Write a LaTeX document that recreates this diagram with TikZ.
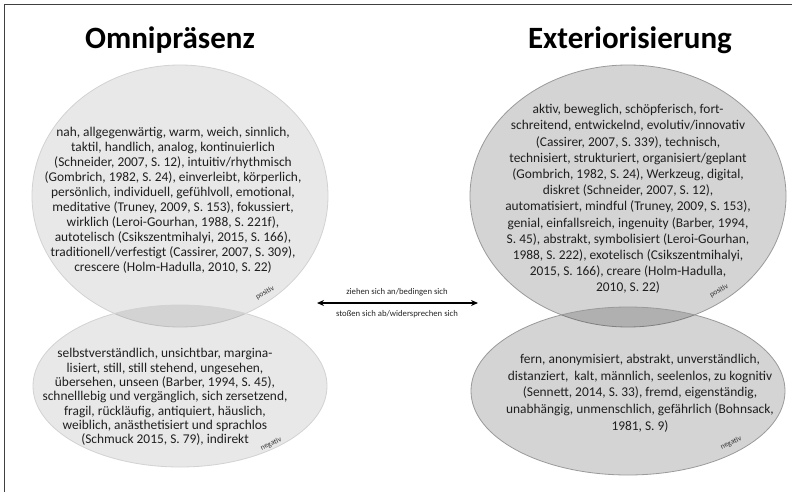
\documentclass[tikz,border=0pt]{standalone}
\usepackage{fontspec}
\setmainfont{Carlito}
\usetikzlibrary{arrows.meta}
\definecolor{frame}{HTML}{404040}
\definecolor{lightedge}{HTML}{D2D2D2}
\definecolor{darkedge}{HTML}{9A9A9A}
\tikzset{
  title/.style={font=\bfseries\fontsize{31}{36}\selectfont, inner sep=0pt},
  body/.style={align=center, inner sep=0pt, text=black!88},
  tag/.style={font=\fontsize{7.5}{8}\selectfont, inner sep=0pt, text=black!80},
  relation/.style={font=\fontsize{8.7}{10}\selectfont, inner sep=0pt, text=black!85},
  lightell/.style={draw=lightedge, fill=black, fill opacity=0.09, line width=0.8pt},
  darkell/.style={draw=darkedge, fill=black, fill opacity=0.17, line width=0.8pt}
}
\begin{document}
\begin{tikzpicture}[x=1pt,y=-1pt]
\useasboundingbox (0,0) rectangle (792,492);
\fill[white] (0,0) rectangle (792,492);
\draw[frame, line width=1.5pt] (4.5,492) -- (4.5,4.5) -- (792,4.5);

% ellipses
\path[lightell] (180,196) ellipse [x radius=148pt, y radius=131pt];
\path[lightell] (180,386) ellipse [x radius=147pt, y radius=81pt];
\path[darkell] (628,196) ellipse [x radius=158pt, y radius=131pt];
\path[darkell] (628,391) ellipse [x radius=157pt, y radius=84pt];

% titles
\node[title] (t1) at (170,40) {Omnipräsenz};
\node[title] (t2) at (630,40) {Exteriorisierung};

% texts
\node[body, font=\fontsize{13.4}{15}\selectfont] (lp) at (173,200) {nah, allgegenwärtig, warm, weich, sinnlich,\\
taktil, handlich, analog, kontinuierlich\\
(Schneider, 2007, S. 12), intuitiv/rhythmisch\\
(Gombrich, 1982, S. 24), einverleibt, körperlich,\\
persönlich, individuell, gefühlvoll, emotional,\\
meditative (Truney, 2009, S. 153), fokussiert,\\
wirklich (Leroi-Gourhan, 1988, S. 221f),\\
autotelisch (Csikszentmihalyi, 2015, S. 166),\\
traditionell/verfestigt (Cassirer, 2007, S. 309),\\
crescere (Holm-Hadulla, 2010, S. 22)};

\node[body, font=\fontsize{13.4}{16.2}\selectfont] (rp) at (628,199) {aktiv, beweglich, schöpferisch, fort-\\
schreitend, entwickelnd, evolutiv/innovativ\\
(Cassirer, 2007, S. 339), technisch,\\
technisiert, strukturiert, organisiert/geplant\\
(Gombrich, 1982, S. 24), Werkzeug, digital,\\
diskret (Schneider, 2007, S. 12),\\
automatisiert, mindful (Truney, 2009, S. 153),\\
genial, einfallsreich, ingenuity (Barber, 1994,\\
S. 45), abstrakt, symbolisiert (Leroi-Gourhan,\\
1988, S. 222), exotelisch (Csikszentmihalyi,\\
2015, S. 166), creare (Holm-Hadulla,\\
2010, S. 22)};

\node[body, font=\fontsize{13.4}{14.3}\selectfont] (ln) at (165,397) {selbstverständlich, unsichtbar, margina-\\
lisiert, still, still stehend, ungesehen,\\
übersehen, unseen (Barber, 1994, S. 45),\\
schnelllebig und vergänglich, sich zersetzend,\\
fragil, rückläufig, antiquiert, häuslich,\\
weiblich, anästhetisiert und sprachlos\\
(Schmuck 2015, S. 79), indirekt};

\node[body, font=\fontsize{13.4}{16.7}\selectfont] (rn) at (640,393) {fern, anonymisiert, abstrakt, unverständlich,\\
distanziert,\ \ kalt, männlich, seelenlos, zu kognitiv\\
(Sennett, 2014, S. 33), fremd, eigenständig,\\
unabhängig, unmenschlich, gefährlich (Bohnsack,\\
1981, S. 9)};

% tags
\node[tag, rotate=30] (lpt) at (265,293) {positiv};
\node[tag, rotate=30] (rpt) at (719,291) {positiv};
\node[tag, rotate=25] (lnt) at (271,444) {negativ};
\node[tag, rotate=25] (rnt) at (731,443) {negativ};

% relation arrow
\coordinate (aL) at (317,303);
\coordinate (aR) at (478,303);
\draw[line width=1.6pt, {Stealth[length=7pt,width=6pt]}-{Stealth[length=7pt,width=6pt]}] (aL) -- (aR);
\node[relation] (rel1) at (397,292) {ziehen sich an/bedingen sich};
\node[relation] (rel2) at (397,314) {stoßen sich ab/widersprechen sich};
\end{tikzpicture}
\end{document}
